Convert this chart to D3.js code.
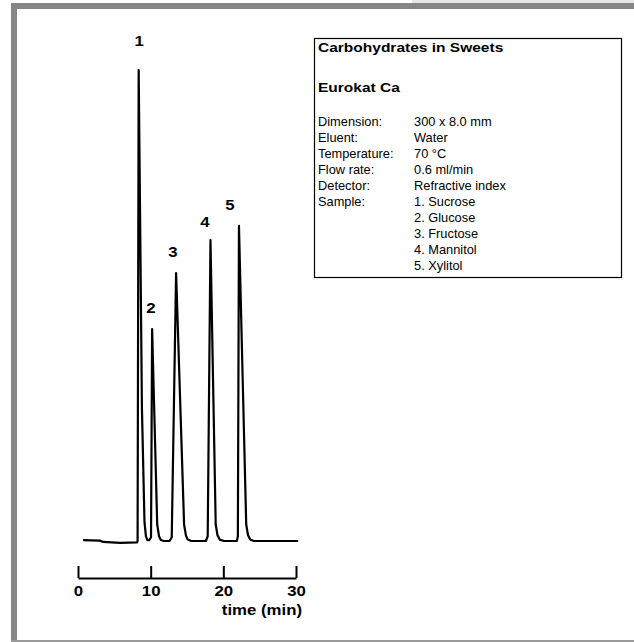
<!DOCTYPE html>
<html>
<head>
<meta charset="utf-8">
<script src="https://cdn.jsdelivr.net/npm/d3@7"></script>
<style>
    body { margin: 0; background: #fff; }
    svg { display: block; font-family: Arial, "Liberation Sans", Helvetica, sans-serif; }
</style>
</head>
<body>
<svg id="chart"></svg>
<script>
const width = 634;
const height = 642;
const stretch = 1.12; // the scanned lettering is a bit wider than plain Arial

// chromatogram trace (time in min, signal in arbitrary units)
const traceTime = [0.7, 3.0, 3.45, 5.8, 8.1, 8.2, 8.35, 8.8, 9.15, 9.35, 9.55, 9.8,
    10.05, 10.2, 10.9, 11.15, 11.4, 11.8, 12.6, 12.9, 13.5, 14.6, 14.85, 15.1, 15.6, 17.6,
    17.85, 18.23, 18.95, 19.2, 19.5, 20.1, 21.85, 22.0, 22.15, 23.15, 23.4, 23.7, 24.2, 30.3];
const traceSignal = [0.2, 0.1, -0.2, -0.4, -0.3, 0, 100, 28, 4, 1, 0.2, 0.2,
    0.8, 45, 3.5, 1, 0.2, 0, 0, 0.8, 56.9, 3.5, 1.2, 0.3, 0, 0,
    1, 63.9, 3.5, 1.2, 0.3, 0, 0, 1, 66.9, 3.5, 1.2, 0.3, 0, 0];

// peak numbers and where they sit
const peakNames = ["1", "2", "3", "4", "5"];
const peakLabelTime = [8.4, 10.05, 13.07, 17.47, 20.9];
const peakLabelSignal = [105, 48.4, 60.3, 66.7, 70.3];

const xTicks = [0, 10, 20, 30];

// info box
const boxTitle = "Carbohydrates in Sweets";
const boxColumn = "Eurokat Ca";
const infoKeys = ["Dimension:", "Eluent:", "Temperature:", "Flow rate:", "Detector:", "Sample:", "", "", "", ""];
const infoValues = ["300 x 8.0 mm", "Water", "70 °C", "0.6 ml/min", "Refractive index",
    "1. Sucrose", "2. Glucose", "3. Fructose", "4. Mannitol", "5. Xylitol"];

const svg = d3.select("#chart")
    .attr("width", width)
    .attr("height", height);

// frame
svg.append("rect").attr("x", 412).attr("y", 0).attr("width", width - 412).attr("height", 3).attr("fill", "#e6e6e6");
svg.append("rect").attr("x", 11).attr("y", 3).attr("width", width - 11).attr("height", 6).attr("fill", "#868686");
svg.append("rect").attr("x", 11).attr("y", 3).attr("width", 6).attr("height", height - 3).attr("fill", "#868686");
svg.append("rect").attr("x", 11).attr("y", 640).attr("width", width - 11).attr("height", 2).attr("fill", "#9a9a9a");

var x = d3.scaleLinear().domain([0, 30]).range([78, 296]);
var y = d3.scaleLinear().domain([0, 100]).range([541, 70]);

function place(px, py) {
    return "translate(" + px + "," + py + ") scale(" + stretch + ",1)";
}

var points = traceTime.map(function (t, i) {
    return [t, traceSignal[i]];
});

var line = d3.line()
    .x(function (d) { return x(d[0]); })
    .y(function (d) { return y(d[1]); });

svg.append("path")
    .datum(points)
    .attr("d", line)
    .attr("fill", "none")
    .attr("stroke", "#000")
    .attr("stroke-width", 2.2)
    .attr("stroke-linejoin", "round");

// peak numbers
svg.selectAll(".peak")
    .data(peakNames)
    .enter().append("text")
    .attr("class", "peak")
    .attr("transform", function (d, i) { return place(x(peakLabelTime[i]), y(peakLabelSignal[i])); })
    .attr("text-anchor", "middle")
    .attr("font-size", 15)
    .attr("font-weight", "bold")
    .text(function (d) { return d; });

// x axis, ticks pointing up
var axis = svg.append("g")
    .attr("transform", "translate(0,578)")
    .call(d3.axisBottom(x)
        .tickValues(xTicks)
        .tickSizeInner(-12)
        .tickSizeOuter(0)
        .tickPadding(7));

axis.select(".domain").attr("stroke-width", 2);
axis.selectAll(".tick line").attr("stroke-width", 2);
axis.selectAll(".tick text")
    .attr("transform", "scale(" + stretch + ",1)")
    .attr("font-size", 15)
    .attr("font-weight", "bold")
    .attr("font-family", "Arial, 'Liberation Sans', sans-serif")
    .attr("fill", "#000");

svg.append("text")
    .attr("transform", place(302, 615))
    .attr("text-anchor", "end")
    .attr("font-size", 15)
    .attr("font-weight", "bold")
    .text("time (min)");

// info box
var box = svg.append("g");
box.append("rect")
    .attr("x", 314.5).attr("y", 38.5)
    .attr("width", 307).attr("height", 239)
    .attr("fill", "none")
    .attr("stroke", "#000")
    .attr("stroke-width", 1.2);

box.append("text").attr("transform", "translate(318,52) scale(1.15,1)")
    .attr("font-size", 13.5).attr("font-weight", "bold").text(boxTitle);
box.append("text").attr("transform", "translate(318,92) scale(1.15,1)")
    .attr("font-size", 13.5).attr("font-weight", "bold").text(boxColumn);

box.selectAll(".key")
    .data(infoKeys)
    .enter().append("text")
    .attr("class", "key")
    .attr("transform", function (d, i) { return "translate(318," + (126 + i * 16) + ") scale(1.07,1)"; })
    .attr("font-size", 12)
    .text(function (d) { return d; });

box.selectAll(".val")
    .data(infoValues)
    .enter().append("text")
    .attr("class", "val")
    .attr("transform", function (d, i) { return "translate(414," + (126 + i * 16) + ") scale(1.07,1)"; })
    .attr("font-size", 12)
    .text(function (d) { return d; });
</script>
</body>
</html>
